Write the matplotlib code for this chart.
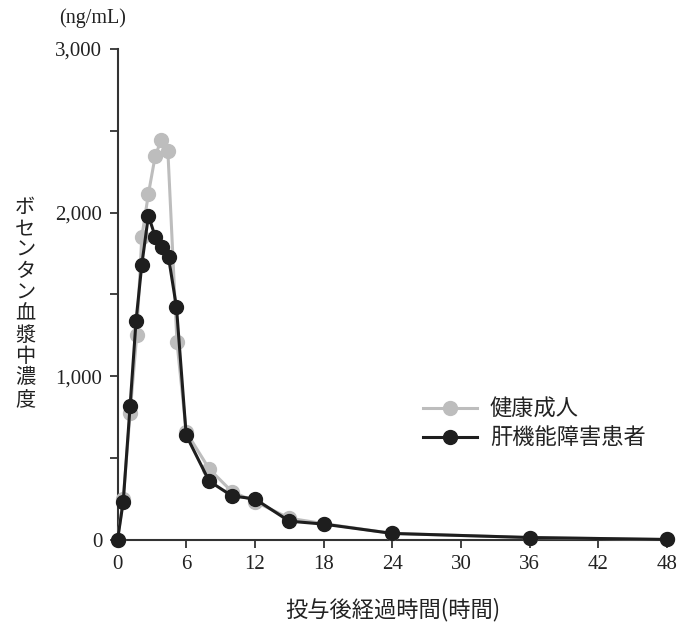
import matplotlib
matplotlib.use("Agg")
import matplotlib.pyplot as plt

# 投与後経過時間 (h) と ボセンタン血漿中濃度 (ng/mL)
t_healthy = [0, 0.5, 1.1, 1.68, 2.12, 2.7, 3.29, 3.82, 4.4, 5.19, 6, 8, 10, 12, 15, 18, 24, 36, 48]
c_healthy = [0, 250, 775, 1250, 1850, 2115, 2345, 2445, 2375, 1212, 660, 435, 295, 235, 133, 100, 40, 15, 3]

t_hepatic = [0, 0.5, 1.1, 1.62, 2.12, 2.7, 3.29, 3.88, 4.46, 5.15, 6, 8, 10, 12, 15, 18, 24, 36, 48]
c_hepatic = [0, 234, 819, 1340, 1681, 1982, 1854, 1789, 1726, 1422, 640, 360, 269, 251, 115, 97, 40, 15, 3]

labels = ["健康成人", "肝機能障害患者"]
xticks = [0, 6, 12, 18, 24, 30, 36, 42, 48]
yticks = [0, 500, 1000, 1500, 2000, 2500, 3000]
ytick_labels = ["0", "", "1,000", "", "2,000", "", "3,000"]

jp = ["Noto Sans CJK JP", "DejaVu Sans"]
num = ["Liberation Serif", "DejaVu Serif"]

fig = plt.figure(figsize=(6.8, 6.32), dpi=100)
ax = fig.add_axes([0.1728, 0.1456, 0.8082, 0.7769])

ax.plot(t_healthy, c_healthy, color="#bdbdbd", lw=2.2, marker="o", ms=10,
        clip_on=False, zorder=3, label=labels[0])
ax.plot(t_hepatic, c_hepatic, color="#1e1e1e", lw=2.2, marker="o", ms=10,
        clip_on=False, zorder=4, label=labels[1])

ax.set_xlim(0, 48)
ax.set_ylim(0, 3000)
ax.set_xticks(xticks)
ax.set_yticks(yticks)
ax.set_yticklabels(ytick_labels)
for lab in ax.get_xticklabels() + ax.get_yticklabels():
    lab.set_family(num)
    lab.set_fontsize(15)
    lab.set_color("#222222")
ax.tick_params(axis="both", length=6, width=1.3, color="#333333", pad=5)

for s in ["top", "right"]:
    ax.spines[s].set_visible(False)
for s in ["left", "bottom"]:
    ax.spines[s].set_linewidth(1.5)
    ax.spines[s].set_color("#333333")

fig.text(0.185, 0.972, "(ng/mL)", family=num, fontsize=14.5, ha="right", va="center", color="#222222")
fig.text(0.037, 0.52, "\n".join("ボセンタン血漿中濃度"), family=jp, fontsize=14.5,
         ha="center", va="center", linespacing=1.02, color="#222222")
fig.text(0.577, 0.035, "投与後経過時間(時間)", family=jp, fontsize=16,
         ha="center", va="center", color="#222222")

leg = ax.legend(loc="upper left", bbox_to_anchor=(0.52, 0.33), frameon=False,
                handlelength=2.4, handletextpad=0.6, labelspacing=0.25,
                prop={"family": jp, "size": 16})
for txt in leg.get_texts():
    txt.set_color("#222222")

fig.savefig("out.png", dpi=100)
